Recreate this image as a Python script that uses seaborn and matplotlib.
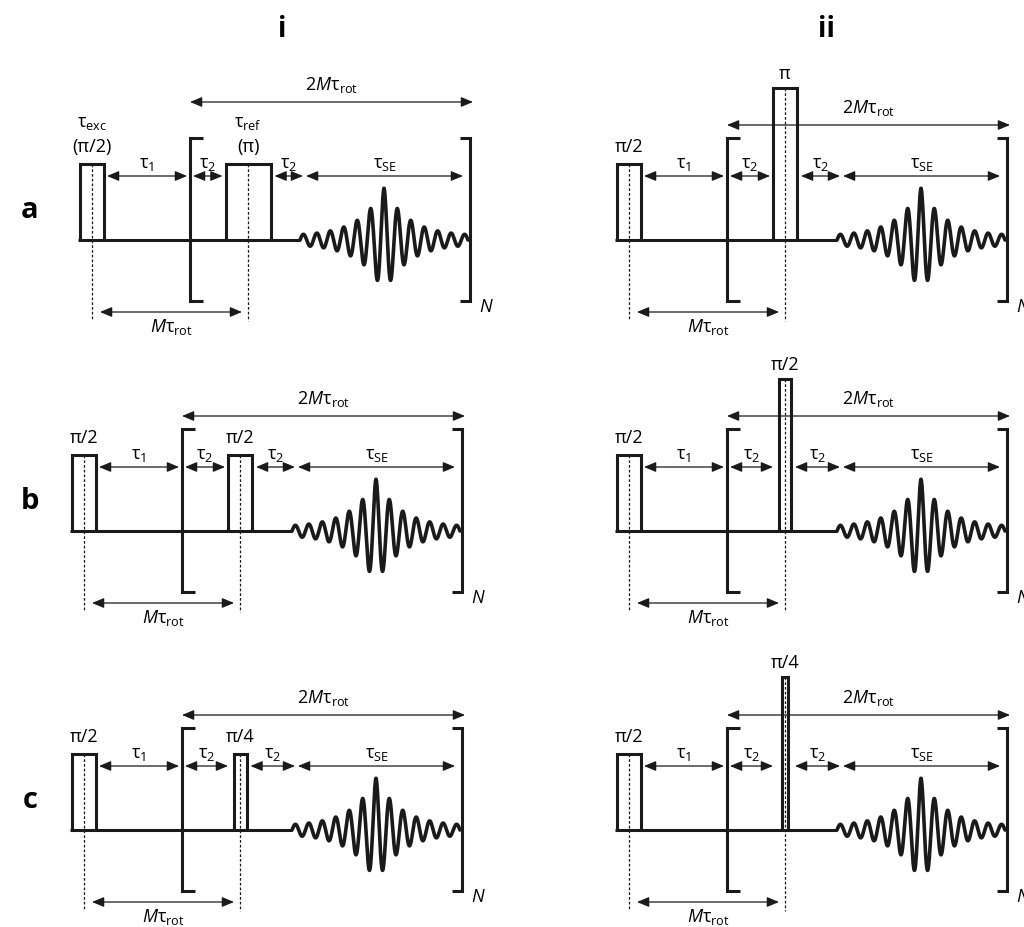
import numpy as np
import seaborn as sns
import matplotlib.pyplot as plt

sns.set_theme(style="white")
plt.rcParams['font.family'] = ['Open Sans', 'DejaVu Sans']
plt.rcParams['text.color'] = 'black'
plt.rcParams['mathtext.fontset'] = 'custom'
plt.rcParams['mathtext.rm'] = 'Open Sans'
plt.rcParams['mathtext.it'] = 'Open Sans:italic'
plt.rcParams['mathtext.bf'] = 'Open Sans:bold'

# labels of the diagram
rows = ["a", "b", "c"]
columns = ["i", "ii"]
first_labels = {"i": ["(π/2)", "π/2", "π/2"], "ii": ["π/2", "π/2", "π/2"]}
second_labels = {"i": ["(π)", "π/2", "π/4"], "ii": ["π", "π/2", "π/4"]}
tau_labels = [r"$\mathrm{τ}_{\mathrm{1}}$", r"$\mathrm{τ}_{\mathrm{2}}$",
              r"$\mathrm{τ}_{\mathrm{2}}$", r"$\mathrm{τ}_{\mathrm{SE}}$"]
big_label = r"$\mathrm{2}\mathit{M}\mathrm{τ}_{\mathrm{rot}}$"
small_label = r"$\mathit{M}\mathrm{τ}_{\mathrm{rot}}$"

# layout (pixels)
baselines = [240, 531, 830]
origins = {"i": [92, 84, 84], "ii": [629, 629, 629]}
pulse_w = {"i": [45, 24, 13], "ii": [24, 12, 6]}
pulse_h = {"i": [76, 76, 76], "ii": [152, 152, 153]}

LW = 2.2
THIN = 0.9
FS = 13

fig = plt.figure(figsize=(10.24, 9.27), dpi=100)
ax = fig.add_axes([0, 0, 1, 1])


def arrow(x1, x2, y):
    ax.annotate("", xy=(x2, y), xytext=(x1, y),
                arrowprops=dict(arrowstyle="<|-|>,head_length=0.6,head_width=0.25",
                                lw=THIN, color="k", mutation_scale=12,
                                shrinkA=0, shrinkB=0))


def panel(col, r):
    x0 = origins[col][r]
    y0 = baselines[r]
    w = pulse_w[col][r]
    h = pulse_h[col][r]
    xc = x0 + 156
    xb = x0 + 98
    xr = x0 + 378
    kw = dict(color="k", lw=LW, solid_joinstyle="miter", solid_capstyle="butt")

    # baseline and pulses
    ax.plot([x0 - 14, x0 + 208], [y0, y0], **kw)
    ax.plot([x0 - 12, x0 - 12, x0 + 12, x0 + 12], [y0, y0 - 76, y0 - 76, y0], **kw)
    ax.plot([xc - w / 2, xc - w / 2, xc + w / 2, xc + w / 2], [y0, y0 - h, y0 - h, y0], **kw)
    ax.plot([x0, x0], [y0 - 76, y0 + 80], color="k", lw=THIN, ls=(0, (2.2, 1.6)))
    ax.plot([xc, xc], [y0 - h, y0 + 81], color="k", lw=THIN, ls=(0, (2.2, 1.6)))

    # brackets
    ax.plot([xb + 13, xb, xb, xb + 13], [y0 - 102, y0 - 102, y0 + 61, y0 + 61], **kw)
    ax.plot([xr - 10, xr, xr, xr - 10], [y0 - 102, y0 - 102, y0 + 61, y0 + 61], **kw)
    ax.text(xr + 9, y0 + 72, "N", fontsize=FS, style="italic", ha="left", va="baseline")

    # spin echo
    xs = np.linspace(x0 + 208, x0 + 376, 800)
    d = xs - (x0 + 292)
    amp = 48 * np.exp(-np.abs(d) / 24) + 4
    ys = y0 - amp * np.cos(2 * np.pi * d / 13.44)
    sns.lineplot(x=xs, y=ys, ax=ax, color="k", lw=2.6, sort=False, estimator=None)

    # delay arrows
    t2_end = min(xc - w / 2 - 3, x0 + 144)
    t2_start = max(xc + w / 2 + 4, x0 + 166)
    spans = [(x0 + 15, xb - 3), (xb + 3, t2_end), (t2_start, x0 + 211), (x0 + 214, x0 + 371)]
    ya = y0 - 64
    for (a, b), lab in zip(spans, tau_labels):
        arrow(a, b, ya)
        ax.text((a + b) / 2, y0 - 72, lab, fontsize=FS, ha="center", va="baseline")

    yb = y0 - 138 if (col == "i" and r == 0) else y0 - 115
    arrow(xb, xr + 3, yb)
    ax.text((xb + xr + 3) / 2, yb - 12, big_label, fontsize=FS, ha="center", va="baseline")

    arrow(x0 + 8, x0 + 150, y0 + 72)
    ax.text(x0 + 79, y0 + 92, small_label, fontsize=FS, ha="center", va="baseline")

    # pulse labels
    ax.text(x0, y0 - 88, first_labels[col][r], fontsize=FS, ha="center", va="baseline")
    if col == "i":
        ax.text(xc, y0 - 88, second_labels[col][r], fontsize=FS, ha="center", va="baseline")
        if r == 0:
            ax.text(x0, y0 - 113, r"$\mathrm{τ}_{\mathrm{exc}}$", fontsize=FS, ha="center", va="baseline")
            ax.text(xc, y0 - 113, r"$\mathrm{τ}_{\mathrm{ref}}$", fontsize=FS, ha="center", va="baseline")
    else:
        ax.text(xc, y0 - h - 9, second_labels[col][r], fontsize=FS, ha="center", va="baseline")


for col in columns:
    for r in range(len(rows)):
        panel(col, r)

ax.text(282, 29, "i", fontsize=20, fontweight="bold", ha="center", va="center")
ax.text(826, 29, "ii", fontsize=20, fontweight="bold", ha="center", va="center")
for r, lab in enumerate(rows):
    ax.text(30, baselines[r] - 30, lab, fontsize=21, fontweight="bold", ha="center", va="center")

ax.set_xlim(0, 1024)
ax.set_ylim(927, 0)
ax.axis("off")
fig.savefig("out.png", dpi=100)
